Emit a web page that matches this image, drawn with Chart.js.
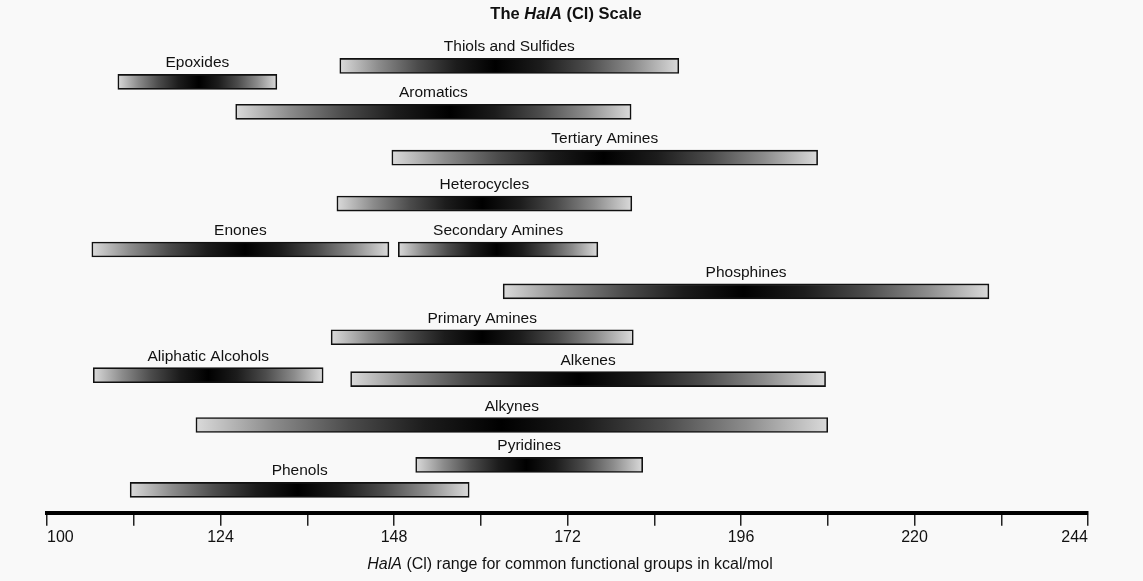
<!DOCTYPE html>
<html>
<head>
<meta charset="utf-8">
<script src="https://cdn.jsdelivr.net/npm/chart.js@4/dist/chart.umd.min.js"></script>
<style>
  body { margin: 0; background: #f9f9f9; }
  #wrap { width: 1143px; height: 581px; position: relative; }
</style>
</head>
<body>
<div id="wrap"><canvas id="chart"></canvas></div>
<script>
// functional groups, HalA (Cl) ranges in kcal/mol
const groups = ['Thiols and Sulfides', 'Epoxides', 'Aromatics', 'Tertiary Amines', 'Heterocycles',
  'Enones', 'Secondary Amines', 'Phosphines', 'Primary Amines', 'Aliphatic Alcohols',
  'Alkenes', 'Alkynes', 'Pyridines', 'Phenols'];
const lowEnd  = [140.5, 109.8, 126.1, 147.7, 140.1, 106.2, 148.6, 163.1, 139.3, 106.4, 142.0, 120.6, 151.0, 111.5];
const highEnd = [187.4, 131.8, 180.8, 206.6, 180.9, 147.3, 176.2, 230.3, 181.1, 138.2, 207.7, 208.0, 182.4, 158.4];
// where the shading is darkest
const peak    = [162.0, 121.0, 155.7, 177.0, 160.2, 127.4, 162.2, 196.3, 160.2, 122.3, 173.6, 162.9, 166.3, 134.7];
// vertical lane of each bar (0 = axis)
const lane    = [22.4, 21.6, 20.1, 17.8, 15.5, 13.2, 13.2, 11.1, 8.8, 6.9, 6.7, 4.4, 2.4, 1.15];
const labeledTicks = [100, 124, 148, 172, 196, 220, 244];

const FONT = '"Liberation Sans", Arial, Helvetica, sans-serif';

// shade ramp from bar end (0) to darkest point (1)
const ramp = [[0, '#dadada'], [0.1, '#bbbbbb'], [0.25, '#8c8c8c'], [0.5, '#4c4c4c'], [0.75, '#1c1c1c'], [1, '#000000']];

const bg = {
  id: 'bg',
  beforeDraw(chart) {
    const c = chart.ctx;
    c.save();
    c.fillStyle = '#f9f9f9';
    c.fillRect(0, 0, chart.width, chart.height);
    c.restore();
  }
};

function drawParts(c, parts, cx, y) {
  let total = 0;
  parts.forEach(p => { c.font = p.font; total += c.measureText(p.text).width; });
  let x = cx - total / 2;
  parts.forEach(p => {
    c.font = p.font;
    c.fillText(p.text, x, y);
    x += c.measureText(p.text).width;
  });
}

const texts = {
  id: 'texts',
  afterDraw(chart) {
    const c = chart.ctx;
    const meta = chart.getDatasetMeta(0);
    c.save();
    c.fillStyle = '#111';
    c.textAlign = 'center';
    c.textBaseline = 'alphabetic';
    c.font = '15.5px ' + FONT;
    meta.data.forEach((bar, i) => {
      const cx = (bar.x + bar.base) / 2;
      const top = bar.y - bar.height / 2;
      c.fillText(groups[i], cx, top - 7);
    });
    c.textAlign = 'left';
    drawParts(c, [
      { text: 'The ', font: 'bold 16.5px ' + FONT },
      { text: 'HalA', font: 'italic bold 16.5px ' + FONT },
      { text: ' (Cl) Scale', font: 'bold 16.5px ' + FONT }
    ], 566, 19);
    drawParts(c, [
      { text: 'HalA', font: 'italic 16px ' + FONT },
      { text: ' (Cl) range for common functional groups in kcal/mol', font: '16px ' + FONT }
    ], 570, 569);
    c.restore();
  }
};

chartInit();

function chartInit() {
  const ctx = document.getElementById('chart').getContext('2d');
  new Chart(ctx, {
    type: 'bar',
    data: {
      datasets: [{
        data: groups.map((g, i) => ({ y: lane[i], x: [lowEnd[i], highEnd[i]] })),
        barThickness: 15,
        borderWidth: 1.6,
        borderColor: '#111',
        borderSkipped: false,
        backgroundColor: function(context) {
          const chart = context.chart;
          if (!chart.chartArea || context.dataIndex === undefined) return '#888';
          const i = context.dataIndex;
          const xs = chart.scales.x;
          const x0 = xs.getPixelForValue(lowEnd[i]);
          const x1 = xs.getPixelForValue(highEnd[i]);
          const p = Math.min(0.99, Math.max(0.01, (xs.getPixelForValue(peak[i]) - x0) / (x1 - x0)));
          const g = chart.ctx.createLinearGradient(x0, 0, x1, 0);
          ramp.forEach(([t, col]) => g.addColorStop(t * p, col));
          ramp.slice().reverse().forEach(([t, col]) => g.addColorStop(1 - t * (1 - p), col));
          return g;
        }
      }]
    },
    options: {
      indexAxis: 'y',
      responsive: true,
      maintainAspectRatio: false,
      animation: false,
      layout: { padding: { top: 34, left: 47, right: 55, bottom: 32 } },
      plugins: { legend: { display: false }, tooltip: { enabled: false } },
      scales: {
        y: { type: 'linear', min: 0, max: 24, offset: false, display: false },
        x: {
          type: 'linear',
          min: 100,
          max: 244,
          border: { display: true, width: 4, color: '#000' },
          grid: { drawOnChartArea: false, drawTicks: true, tickLength: 13, color: '#222', lineWidth: 1.5 },
          ticks: {
            stepSize: 12,
            autoSkip: false,
            maxRotation: 0,
            align: 'inner',
            padding: 2,
            color: '#111',
            font: { family: FONT, size: 16 },
            callback: v => labeledTicks.includes(v) ? String(v) : ''
          }
        }
      }
    },
    plugins: [bg, texts]
  });
}
</script>
</body>
</html>
